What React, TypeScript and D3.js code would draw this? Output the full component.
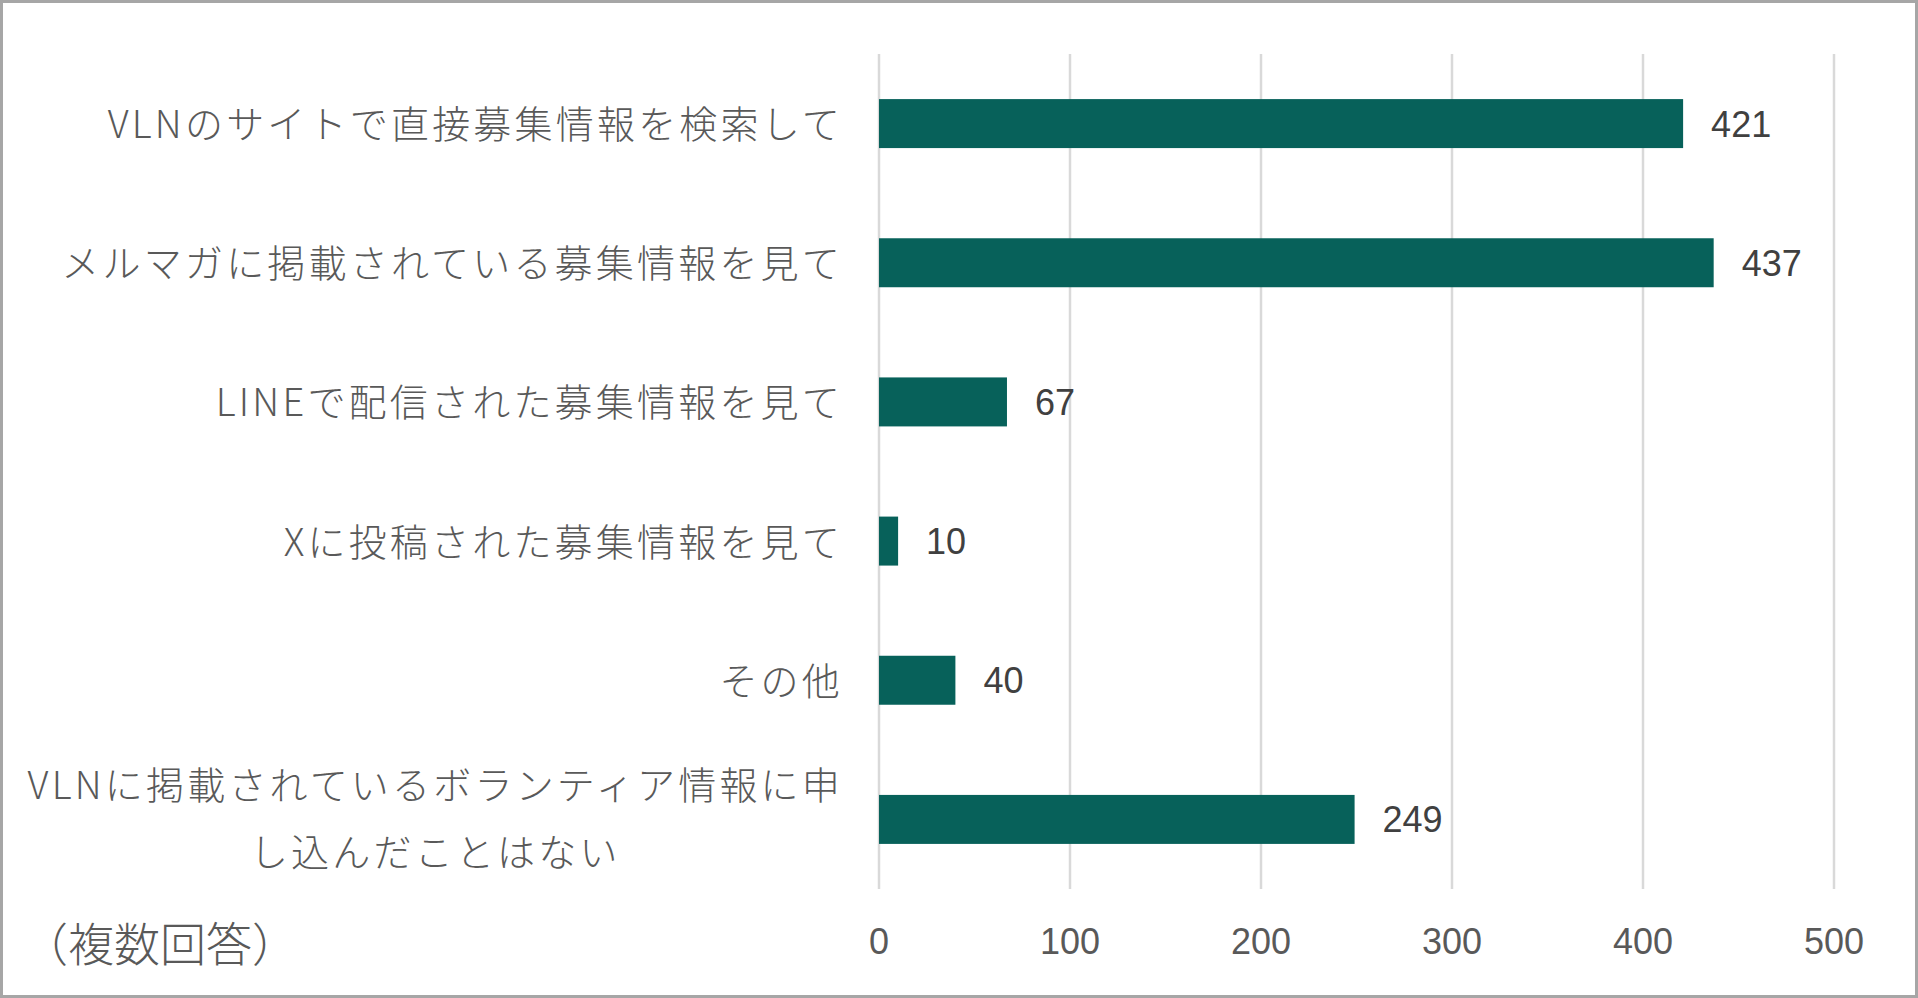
import { useEffect, useRef } from "react";
import * as d3 from "d3";

// categories (multi-line labels are split the way the chart wraps them)
const CATEGORIES: string[][] = [
  ["VLNのサイトで直接募集情報を検索して"],
  ["メルマガに掲載されている募集情報を見て"],
  ["LINEで配信された募集情報を見て"],
  ["Xに投稿された募集情報を見て"],
  ["その他"],
  ["VLNに掲載されているボランティア情報に申", "し込んだことはない"],
];
const VALUES = [421, 437, 67, 10, 40, 249];
const X_TICKS = [0, 100, 200, 300, 400, 500];
const NOTE = "（複数回答）";

const WIDTH = 1918;
const HEIGHT = 998;
const MARGIN = { top: 54, right: 84, bottom: 109, left: 879 };

const BAR_COLOR = "#07615a";
const GRID_COLOR = "#d9d9d9";
const JP_FONT = "'Noto Sans CJK JP', 'Noto Sans', sans-serif";
const NUM_FONT = "'Liberation Sans', Arial, sans-serif";

export default function App() {
  const svgRef = useRef<SVGSVGElement | null>(null);

  useEffect(() => {
    const svg = svgRef.current;
    if (!svg) return;
    svg.innerHTML = "";

    const root = d3.select(svg).attr("width", WIDTH).attr("height", HEIGHT);

    const innerW = WIDTH - MARGIN.left - MARGIN.right;
    const innerH = HEIGHT - MARGIN.top - MARGIN.bottom;

    const x = d3.scaleLinear().domain([0, 500]).range([MARGIN.left, MARGIN.left + innerW]);
    const y = d3
      .scaleBand<number>()
      .domain(CATEGORIES.map((_, i) => i))
      .range([MARGIN.top, MARGIN.top + innerH])
      .paddingInner(0.648)
      .paddingOuter(0.324);

    // background + frame
    root.append("rect")
      .attr("x", 1.5).attr("y", 1.5)
      .attr("width", WIDTH - 3).attr("height", HEIGHT - 3)
      .attr("fill", "#fff")
      .attr("stroke", "#a6a6a6")
      .attr("stroke-width", 3);

    // vertical gridlines
    root.append("g")
      .selectAll("line")
      .data(X_TICKS)
      .join("line")
      .attr("x1", (d) => x(d)).attr("x2", (d) => x(d))
      .attr("y1", MARGIN.top).attr("y2", MARGIN.top + innerH)
      .attr("stroke", GRID_COLOR)
      .attr("stroke-width", 2.5);

    // tick labels
    root.append("g")
      .selectAll("text")
      .data(X_TICKS)
      .join("text")
      .attr("x", (d) => x(d))
      .attr("y", 954)
      .attr("text-anchor", "middle")
      .style("font-family", NUM_FONT)
      .style("font-size", "36px")
      .attr("fill", "#595959")
      .text((d) => `${d}`);

    // bars
    root.append("g")
      .selectAll("rect")
      .data(VALUES)
      .join("rect")
      .attr("x", x(0))
      .attr("y", (_, i) => y(i)!)
      .attr("width", (d) => x(d) - x(0))
      .attr("height", y.bandwidth())
      .attr("fill", BAR_COLOR);

    // value labels
    root.append("g")
      .selectAll("text")
      .data(VALUES)
      .join("text")
      .attr("x", (d) => x(d) + 28)
      .attr("y", (_, i) => y(i)! + y.bandwidth() / 2 + 13)
      .style("font-family", NUM_FONT)
      .style("font-size", "36px")
      .attr("fill", "#404040")
      .text((d) => `${d}`);

    // category labels
    const labelRight = 843;
    const lineGap = 67;
    const catG = root.append("g")
      .style("font-family", JP_FONT)
      .style("font-size", "38px")
      .style("font-weight", 300)
      .style("letter-spacing", "3.2px")
      .attr("fill", "#595959");

    CATEGORIES.forEach((lines, i) => {
      const cy = y(i)! + y.bandwidth() / 2 - 2;
      if (lines.length === 1) {
        catG.append("text")
          .attr("x", labelRight)
          .attr("y", cy)
          .attr("text-anchor", "end")
          .attr("dominant-baseline", "central")
          .text(lines[0]);
        return;
      }
      // wrapped label: lines centred on the widest one, which is right-aligned
      const top = cy - ((lines.length - 1) * lineGap) / 2 - 1;
      const first = catG.append("text")
        .attr("x", labelRight)
        .attr("y", top)
        .attr("text-anchor", "end")
        .attr("dominant-baseline", "central")
        .text(lines[0]);
      const w = (first.node() as SVGTextElement).getComputedTextLength();
      const cx = labelRight - w / 2;
      first.attr("text-anchor", "middle").attr("x", cx);
      lines.slice(1).forEach((ln, k) => {
        catG.append("text")
          .attr("x", cx)
          .attr("y", top + (k + 1) * lineGap)
          .attr("text-anchor", "middle")
          .attr("dominant-baseline", "central")
          .text(ln);
      });
    });

    // note
    root.append("text")
      .attr("x", 22)
      .attr("y", 941)
      .attr("dominant-baseline", "central")
      .style("font-family", JP_FONT)
      .style("font-size", "46px")
      .style("font-weight", 300)
      .attr("fill", "#595959")
      .text(NOTE);
  }, []);

  return (
    <div style={{ position: "absolute", left: 0, top: 0, width: WIDTH, height: HEIGHT }}>
      <svg ref={svgRef} role="img" aria-label="募集情報の入手経路" style={{ display: "block" }} />
    </div>
  );
}
